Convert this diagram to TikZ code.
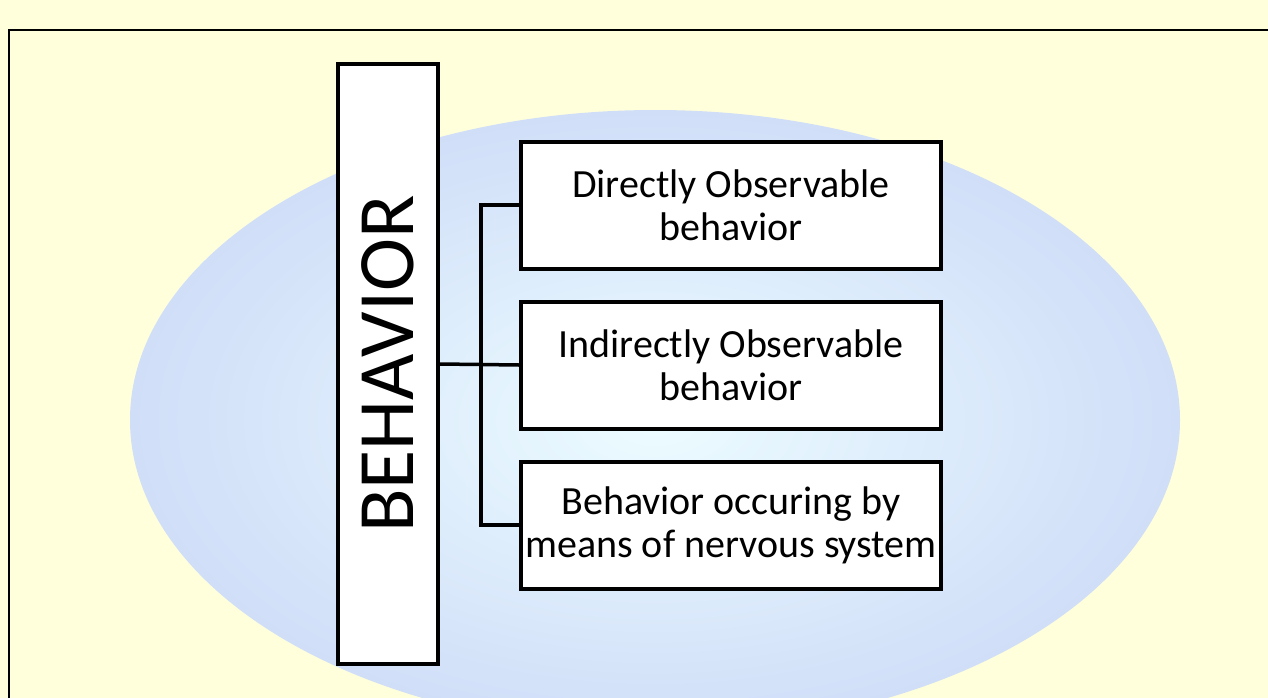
\documentclass[tikz,border=0pt]{standalone}
\usepackage{fontspec}
\setmainfont{Carlito}
\definecolor{bgyellow}{HTML}{FFFFDC}
\definecolor{globein}{HTML}{ECFCFF}
\definecolor{globeout}{HTML}{D0DEF8}
\tikzset{
  smallbox/.style={draw=black, line width=4pt, fill=white, minimum width=420pt, minimum height=127pt,
    align=center, font=\fontsize{40}{43}\selectfont, inner sep=0pt},
  bigbox/.style={draw=black, line width=4pt, fill=white, minimum width=100pt, minimum height=600pt, inner sep=0pt},
  conn/.style={draw=black, line width=3.5pt},
  frame/.style={draw=black, line width=2pt}
}
\begin{document}
\begin{tikzpicture}[x=1pt,y=-1pt]
\useasboundingbox (0,0) rectangle (1268,698);
\fill[bgyellow] (0,0) rectangle (1268,698);
\begin{scope}
\clip (0,0) rectangle (1268,698);
\shade[inner color=globein, outer color=globeout] (655,420) ellipse [x radius=525, y radius=310];
\end{scope}
\coordinate (fl) at (9,698);
\coordinate (fc) at (9,30);
\coordinate (fr) at (1268,30);
\draw[frame] (fl) -- (fc) -- (fr);
\node[bigbox] (beh) at (388,364) {};
\node[rotate=90, font=\fontsize{80}{84}\selectfont, inner sep=0pt] (behtxt) at (beh.center) {BEHAVIOR};
\node[smallbox] (b1) at (731,205) {Directly Observable\\behavior};
\node[smallbox] (b2) at (731,365) {Indirectly Observable\\behavior};
\node[smallbox] (b3) at (731,525) {Behavior occuring by\\means of nervous system};
\coordinate (bt) at (481,205);
\coordinate (bb) at (481,525);
\draw[conn] (beh.east) -- (b2.west);
\draw[conn] (b1.west) -- (bt) -- (bb) -- (b3.west);
\end{tikzpicture}
\end{document}
